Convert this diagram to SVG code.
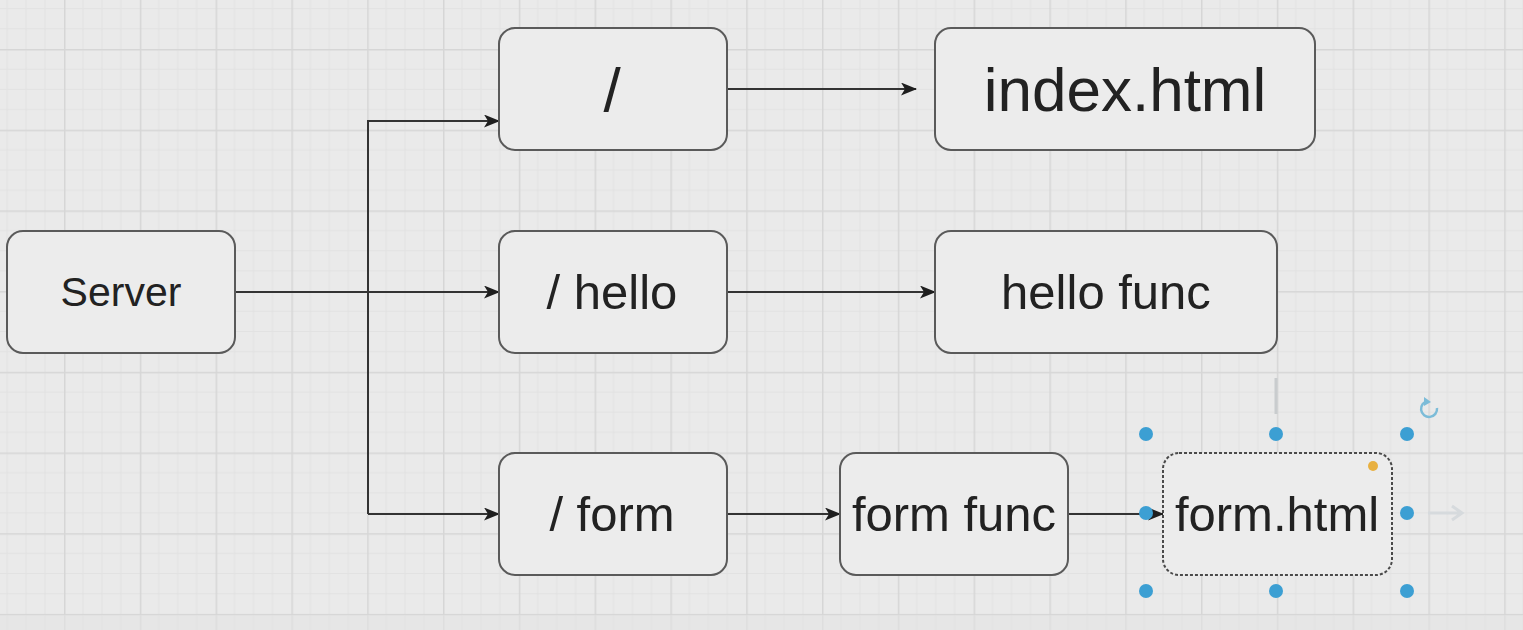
<svg xmlns="http://www.w3.org/2000/svg" width="1523" height="630" viewBox="0 0 1523 630">
  <defs>
    <!-- canvas grid: one major cell with four minor divisions each way -->
    <pattern id="grid" patternUnits="userSpaceOnUse" x="64" y="49" width="75.8" height="80.7">
      <g stroke="#e2e2e2" stroke-width="1">
        <line x1="18.95" y1="0" x2="18.95" y2="80.7"/>
        <line x1="37.9" y1="0" x2="37.9" y2="80.7"/>
        <line x1="56.85" y1="0" x2="56.85" y2="80.7"/>
        <line x1="0" y1="20.2" x2="75.8" y2="20.2"/>
        <line x1="0" y1="40.35" x2="75.8" y2="40.35"/>
        <line x1="0" y1="60.5" x2="75.8" y2="60.5"/>
      </g>
      <g stroke="#d6d6d6" stroke-width="1.5">
        <line x1="0.75" y1="0" x2="0.75" y2="80.7"/>
        <line x1="0" y1="0.75" x2="75.8" y2="0.75"/>
      </g>
    </pattern>
    <marker id="arrow" viewBox="0 0 16 13" refX="15" refY="6.5" markerWidth="16" markerHeight="13" markerUnits="userSpaceOnUse" orient="auto">
      <path d="M0,0 L16,6.5 L0,13 L4,6.5 Z" fill="#1e1e1e"/>
    </marker>
    <style>
      .box { fill: #ececec; stroke: #5a5a5a; stroke-width: 2; }
      .sel { fill: #ececec; stroke: #4a4a4a; stroke-width: 2; stroke-dasharray: 3 2; }
      .lbl { font-family: "Liberation Sans", Arial, sans-serif; fill: #222222; text-anchor: middle; dominant-baseline: central; }
      .edge { fill: none; stroke: #333333; stroke-width: 2; }
      .handle { fill: #3c9fd3; }
    </style>
  </defs>

  <!-- canvas -->
  <rect x="0" y="0" width="1523" height="630" fill="#eaeaea"/>
  <rect x="0" y="0" width="1523" height="630" fill="url(#grid)"/>
  <rect x="0" y="615" width="1523" height="15" fill="#e2e2e2" opacity="0.6"/>

  <!-- connectors -->
  <g id="connectors">
    <path class="edge" d="M235,292 H368"/>
    <path class="edge" d="M368,514 V121 H499" marker-end="url(#arrow)"/>
    <path class="edge" d="M368,292 H499" marker-end="url(#arrow)"/>
    <path class="edge" d="M368,514 H499" marker-end="url(#arrow)"/>
    <path class="edge" d="M727,89 H916" marker-end="url(#arrow)"/>
    <path class="edge" d="M727,292 H935" marker-end="url(#arrow)"/>
    <path class="edge" d="M727,514 H840" marker-end="url(#arrow)"/>
    <path class="edge" d="M1068,514 H1163" marker-end="url(#arrow)"/>
  </g>

  <!-- nodes -->
  <g id="server">
    <rect class="box" x="7" y="231" width="228" height="122" rx="16"/>
    <text class="lbl" x="121" y="292" font-size="41">Server</text>
  </g>
  <g id="route-root">
    <rect class="box" x="499" y="28" width="228" height="122" rx="16"/>
    <text class="lbl" x="612" y="89" font-size="62">/</text>
  </g>
  <g id="route-hello">
    <rect class="box" x="499" y="231" width="228" height="122" rx="16"/>
    <text class="lbl" x="612" y="292" font-size="49">/ hello</text>
  </g>
  <g id="route-form">
    <rect class="box" x="499" y="453" width="228" height="122" rx="16"/>
    <text class="lbl" x="612" y="514" font-size="49">/ form</text>
  </g>
  <g id="index-html">
    <rect class="box" x="935" y="28" width="380" height="122" rx="16"/>
    <text class="lbl" x="1125" y="89" font-size="62">index.html</text>
  </g>
  <g id="hello-func">
    <rect class="box" x="935" y="231" width="342" height="122" rx="16"/>
    <text class="lbl" x="1106" y="292" font-size="49">hello func</text>
  </g>
  <g id="form-func">
    <rect class="box" x="840" y="453" width="228" height="122" rx="16"/>
    <text class="lbl" x="954" y="514" font-size="49">form func</text>
  </g>
  <g id="form-html">
    <rect class="sel" x="1163" y="453" width="229" height="122" rx="16"/>
    <text class="lbl" x="1277" y="514" font-size="49">form.html</text>
  </g>

  <!-- selection handles around form.html -->
  <g id="selection">
    <line x1="1276" y1="378" x2="1276" y2="414" stroke="#c9ccce" stroke-width="3"/>
    <path d="M1428,513 H1462 M1452,506 L1462,513 L1452,520" fill="none" stroke="#d6dadd" stroke-width="3"/>
    <circle class="handle" cx="1146" cy="434" r="7"/>
    <circle class="handle" cx="1276" cy="434" r="7"/>
    <circle class="handle" cx="1407" cy="434" r="7"/>
    <circle class="handle" cx="1146" cy="513" r="7"/>
    <circle class="handle" cx="1407" cy="513" r="7"/>
    <circle class="handle" cx="1146" cy="591" r="7"/>
    <circle class="handle" cx="1276" cy="591" r="7"/>
    <circle class="handle" cx="1407" cy="591" r="7"/>
    <circle cx="1373" cy="466" r="5" fill="#e8b040"/>
    <path d="M1437,408 A8,8 0 1 1 1428,401" fill="none" stroke="#7cbcd8" stroke-width="2.5"/>
    <path d="M1424,397 L1431,402 L1424,406 Z" fill="#7cbcd8"/>
  </g>
</svg>
